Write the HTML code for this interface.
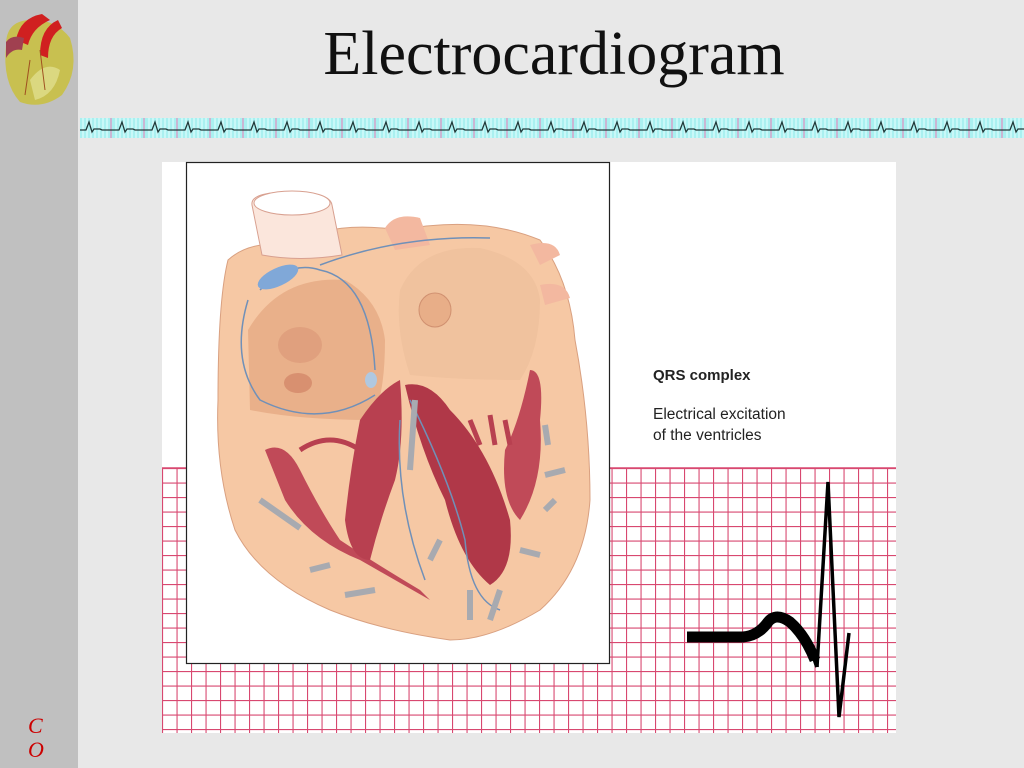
<!DOCTYPE html>
<html><head><meta charset="utf-8"><style>
html,body{margin:0;padding:0;width:1024px;height:768px;overflow:hidden;background:#e8e8e8;font-family:"Liberation Sans",sans-serif}
#side{position:absolute;left:0;top:0;width:78px;height:768px;background:#c0c0c0}
#title{position:absolute;left:84px;right:0;top:19px;text-align:center;font-family:"Liberation Serif",serif;font-size:62px;color:#111}
#co{position:absolute;left:28px;top:714px;font-family:"Liberation Serif",serif;font-style:italic;color:#c00;font-size:22px;line-height:24px}
</style></head><body>
<div id="side"></div>
<div id="title">Electrocardiogram</div>
<div id="co">C<br>O</div>
<svg width="1024" height="768" style="position:absolute;left:0;top:0">
<defs>
<pattern id="strip" x="80" y="118" width="33" height="20" patternUnits="userSpaceOnUse">
<rect width="33" height="20" fill="#aaf0f0"/>
<path d="M3 0V20M7 0V20M11 0V20M15 0V20M19 0V20M23 0V20M27 0V20" stroke="#e6ffff" stroke-width="1"/>
<path d="M31 0V20" stroke="#e090c0" stroke-width="1.2"/>
<path d="M0 12H6L9 4L12 14L14 11H20L22 12H33" stroke="#203838" stroke-width="1.3" fill="none"/>
</pattern>
<pattern id="grid" x="162" y="468" width="14.5" height="14.5" patternUnits="userSpaceOnUse">
<path d="M0.5 0V14.5M0 0.5H14.5" stroke="#d84870" stroke-width="1.2"/>
</pattern>
</defs>
<g>
<path d="M6 45 Q6 22 28 20 Q55 18 70 38 Q80 70 62 95 Q42 110 20 102 Q2 82 6 45Z" fill="#c8c050"/>
<path d="M30 80 Q45 60 60 70 Q55 95 35 100Z" fill="#e8e8a0" opacity=".6"/>
<path d="M16 40 Q20 18 42 14 L50 20 Q32 28 28 45Z" fill="#d02020"/>
<path d="M40 55 Q40 28 58 20 L62 28 Q48 36 48 58Z" fill="#d02020"/>
<path d="M6 42 Q12 34 24 38 L22 50 Q12 48 6 58Z" fill="#a04050"/>
<path d="M30 60 L25 95 M40 50 L45 90" stroke="#a05020" stroke-width="1"/>
</g>
<rect x="80" y="118" width="944" height="20" fill="url(#strip)"/>
<rect x="162" y="162" width="734" height="571" fill="#fff"/>
<rect x="162" y="468" width="734" height="265" fill="url(#grid)"/>
<path d="M162 468H896" stroke="#d84870" stroke-width="1.5"/>
<rect x="186.5" y="162.5" width="423" height="501" fill="#fff" stroke="#222" stroke-width="1.2"/>
<g>
<path d="M228 260 Q250 240 290 245 Q330 220 400 230 Q480 215 540 240 Q570 280 575 340 Q590 420 590 500 Q585 570 540 610 Q490 640 450 640 Q380 630 330 610 Q260 580 235 530 Q215 470 218 400 Q218 300 228 260Z" fill="#f6c8a4" stroke="#d9a080"/>
<path d="M252 205 Q250 192 290 192 Q330 192 332 205 L342 255 Q300 262 262 255Z" fill="#fbe6dc" stroke="#d8a090"/>
<ellipse cx="292" cy="203" rx="38" ry="12" fill="#fff" stroke="#d8a090"/>
<path d="M385 228 Q395 212 420 218 L430 245 L395 250Z" fill="#f3b8a0"/>
<path d="M530 245 Q555 238 560 255 L540 265Z M540 285 Q565 280 570 298 L545 305Z" fill="#f3b8a0"/>
<path d="M248 330 Q280 275 345 280 Q380 300 385 340 Q385 400 370 420 Q300 420 250 410Z" fill="#e9b08a"/>
<path d="M400 290 Q420 245 480 248 Q535 260 540 300 Q540 350 520 380 Q460 380 410 375 Q395 330 400 290Z" fill="#f0c29e"/>
<ellipse cx="435" cy="310" rx="16" ry="17" fill="#e8ae88" stroke="#d09070"/>
<ellipse cx="300" cy="345" rx="22" ry="18" fill="#e0a07e"/>
<ellipse cx="298" cy="383" rx="14" ry="10" fill="#d89070"/>
<path d="M265 450 Q285 440 300 470 Q320 510 340 540 Q370 560 420 590 L430 600 Q395 580 360 560 Q310 540 285 500Z" fill="#c04a58"/>
<path d="M360 420 Q380 390 400 380 Q405 440 395 480 Q380 520 370 560 Q350 560 345 520 Q350 470 360 420Z" fill="#b84050"/>
<path d="M405 385 Q430 380 450 410 Q490 450 510 520 Q515 570 490 585 Q460 560 445 500 Q420 450 405 385Z" fill="#b03848"/>
<path d="M530 370 Q545 370 540 420 Q545 480 520 520 Q500 500 505 450 Q520 420 530 370Z" fill="#c04a58"/>
<path d="M300 450 Q330 430 360 450 M470 420 L480 445 M490 415 L495 445 M505 420 L510 445" stroke="#b84050" stroke-width="5" fill="none"/>
<path d="M260 290 Q290 260 320 270 Q370 280 375 370 M248 300 Q230 360 260 400 Q320 430 375 395 M320 265 Q400 235 490 238 M400 420 Q395 500 425 580 M410 400 Q450 480 465 540 Q470 600 500 610" stroke="#7090b8" stroke-width="1.5" fill="none"/>
<ellipse cx="278" cy="277" rx="22" ry="9" fill="#80a8d8" transform="rotate(-25 278 277)"/>
<ellipse cx="371" cy="380" rx="6" ry="8" fill="#b0c8e0"/>
<g stroke="#a8aab0" stroke-width="6" fill="none">
<path d="M260 500 L300 528 M310 570 L330 565 M345 595 L375 590 M415 400 L410 470 M440 540 L430 560 M470 590 L470 620 M500 590 L490 620 M545 425 L548 445 M545 475 L565 470 M545 510 L555 500 M520 550 L540 555"/>
</g>
</g>
<text x="653" y="380" font-family="Liberation Sans,sans-serif" font-weight="bold" font-size="15" fill="#222">QRS complex</text>
<text x="653" y="419" font-family="Liberation Sans,sans-serif" font-size="15.5" fill="#222">Electrical excitation</text>
<text x="653" y="440" font-family="Liberation Sans,sans-serif" font-size="15.5" fill="#222">of the ventricles</text>
<path d="M687 637 H743 Q758 636 768 622 Q776 612 790 622 Q805 635 815 660" stroke="#000" stroke-width="11" fill="none"/>
<path d="M817 667 L828 482 L839 717 L849 633" stroke="#000" stroke-width="3.5" fill="none" stroke-linejoin="miter"/>
<path d="M808 640 L817 667" stroke="#000" stroke-width="4" fill="none"/>
</svg>
</body></html>
